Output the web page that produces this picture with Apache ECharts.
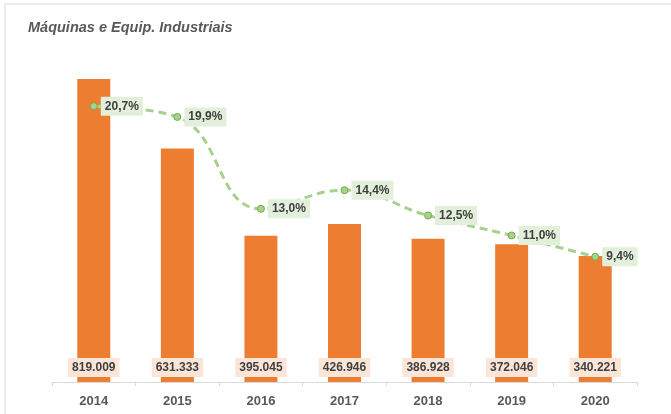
<!DOCTYPE html>
<html>
<head>
<meta charset="utf-8">
<script src="https://cdn.jsdelivr.net/npm/echarts@6/dist/echarts.min.js"></script>
<style>
  html, body { margin: 0; padding: 0; background: #fff; }
  #main { width: 671px; height: 414px; }
</style>
</head>
<body>
<div id="main"></div>
<script>
// anos
var anos = ['2014', '2015', '2016', '2017', '2018', '2019', '2020'];
// valores (barras)
var valores = [819009, 631333, 395045, 426946, 386928, 372046, 340221];
// participação % (linha)
var participacao = [20.7, 19.9, 13.0, 14.4, 12.5, 11.0, 9.4];

var fmtMil = function (v) {
    return String(v).replace(/\B(?=(\d{3})+(?!\d))/g, '.');
};
var fmtPct = function (v) {
    return v.toFixed(1).replace('.', ',') + '%';
};

var chart = echarts.init(document.getElementById('main'));
var option = {
    backgroundColor: '#fff',
    animation: false,
    graphic: [{
        type: 'rect',
        shape: { x: 5, y: 4, width: 700, height: 450 },
        style: { fill: 'none', stroke: '#d9d9d9', lineWidth: 1 },
        silent: true
    }],
    title: {
        text: 'Máquinas e Equip. Industriais',
        left: 28,
        top: 20,
        padding: 0,
        textStyle: {
            fontFamily: 'Liberation Sans',
            fontStyle: 'italic',
            fontWeight: 'bold',
            fontSize: 14.5,
            color: '#595959'
        }
    },
    grid: { left: 52, right: 34, top: 49, bottom: 32 },
    xAxis: {
        type: 'category',
        data: anos,
        axisLine: { lineStyle: { color: '#d9d9d9', width: 1 } },
        axisTick: { show: true, length: 4, lineStyle: { color: '#d9d9d9' } },
        axisLabel: {
            margin: 13,
            fontFamily: 'Liberation Sans',
            fontWeight: 'bold',
            fontSize: 13,
            color: '#595959'
        }
    },
    yAxis: [
        { type: 'value', min: 0, max: 900000, show: false, splitLine: { show: false } },
        { type: 'value', min: 0, max: 25, show: false, splitLine: { show: false } }
    ],
    series: [
        {
            name: 'Valor',
            type: 'bar',
            data: valores,
            barWidth: 33,
            itemStyle: { color: '#ed7d31' },
            label: {
                show: true,
                position: 'insideBottom',
                distance: 5,
                formatter: function (p) { return fmtMil(p.value); },
                backgroundColor: '#fbe5d6',
                padding: [4, 4, 3, 4],
                fontFamily: 'Liberation Sans',
                fontWeight: 'bold',
                fontSize: 12,
                color: '#404040'
            }
        },
        {
            name: 'Participação',
            type: 'line',
            yAxisIndex: 1,
            data: participacao,
            smooth: 0.45,
            symbol: 'circle',
            symbolSize: 7,
            z: 5,
            lineStyle: { color: '#a9d18e', width: 3, type: [8, 5] },
            itemStyle: { color: '#a9d18e', borderColor: '#70ad47', borderWidth: 1 },
            label: {
                show: true,
                position: 'right',
                distance: 3,
                formatter: function (p) { return fmtPct(p.value); },
                backgroundColor: '#e2efda',
                padding: [4, 4, 3, 4],
                fontFamily: 'Liberation Sans',
                fontWeight: 'bold',
                fontSize: 12,
                color: '#404040'
            }
        }
    ]
};
chart.setOption(option);
</script>
</body>
</html>
